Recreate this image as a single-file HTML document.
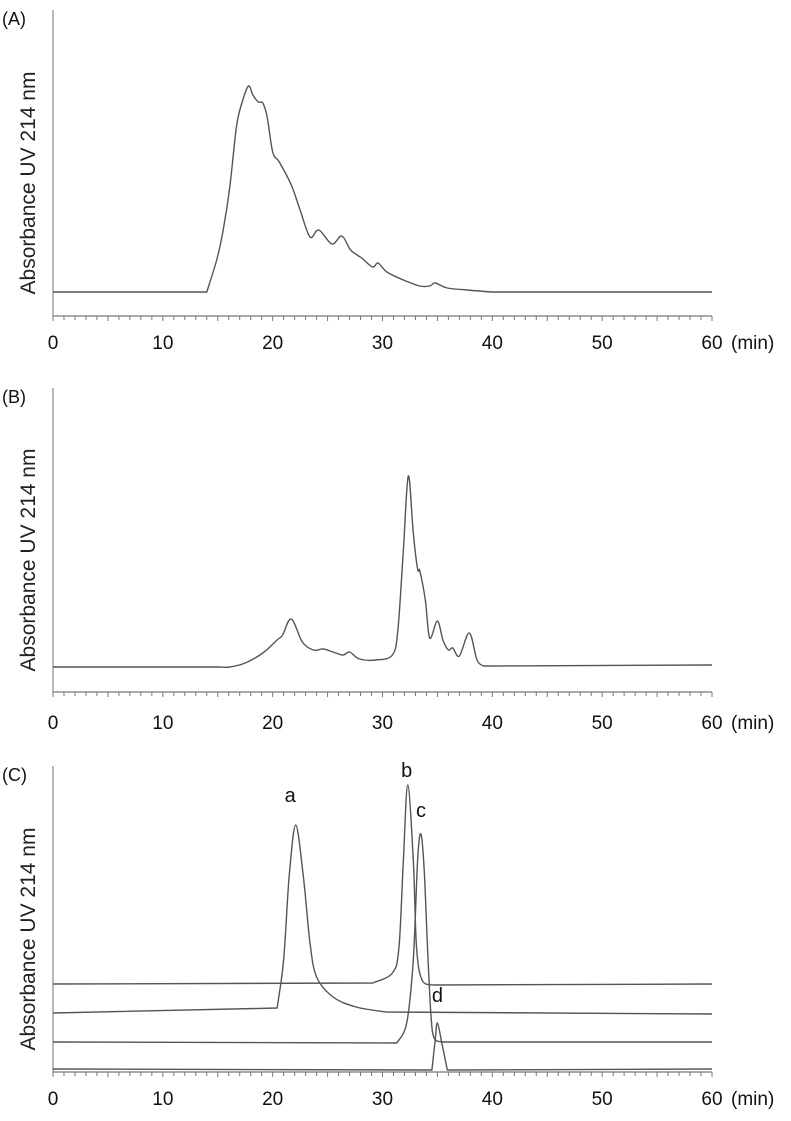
<!DOCTYPE html>
<html><head><meta charset="utf-8"><style>
body{margin:0;background:#fff;}
svg{display:block;font-family:"Liberation Sans",sans-serif;}
</style></head><body>
<svg id="fig" width="791" height="1121" viewBox="0 0 791 1121"></svg>
<script>
// X axis ticks (min)
const xTickLabels = [0,10,20,30,40,50,60];
// Panel A: time (min) and absorbance (arbitrary units above baseline)
const aTimes = [0,14.0,14.9,15.5,16.1,16.7,17.2,17.8,18.2,18.7,19.1,19.5,20.0,20.6,21.7,22.5,23.4,24.2,25.4,26.3,27.1,28.1,29.1,29.6,30.4,31.9,33.4,34.3,34.8,35.9,37.7,40,60];
const aValues = [0,0,32,62,105,165,189,206,197,190,189,175,140,130,107,82,55,62,48,56,42,34,25,29,20,12,6,6,9,4,2,0,0];
// Panel B
const bTimes = [0,15,16.1,17.5,19.1,20.4,20.9,21.7,22.7,23.7,24.6,25.5,26.4,27.0,27.9,29.4,30.9,31.4,31.9,32.35,32.8,33.2,33.4,33.9,34.3,35.0,35.5,36.0,36.4,37.0,37.9,38.6,39.2,60];
const bValues = [0,0,0,4,14,27,32,48,25,17,18,15,12,15,8,7,12,37,117,191,134,98,96,67,29,46,27,17,19,11,34,7,1,2];
// Panel C: four standards (absorbance incl. stacking offset)
const cbTimes = [0,29.1,30.9,31.5,31.9,32.3,32.8,33.1,33.6,34.6,60];
const cbValues = [88,89,99,125,212,287,212,125,92,87,88];
const caTimes = [0,20.4,21.0,21.5,22.1,22.8,23.4,24.0,25.5,27.6,30.3,60];
const caValues = [59,64,112,195,247,195,129,95,75,65,60,58];
const ccTimes = [0,31.3,32.2,32.8,33.2,33.5,33.8,34.1,34.4,34.7,35.5,60];
const ccValues = [30,29,49,112,212,238,202,125,59,34,30,30];
const cdTimes = [0,34.5,34.8,35.0,35.4,35.9,60];
const cdValues = [3,2,32,49,29,2,3];
const cLabels = ['a','b','c','d'];
const cLabelTimes = [21.6,32.2,33.5,35.0];
const cLabelValues = [270,295,255,70];

const NS='http://www.w3.org/2000/svg';
const svg=document.getElementById('fig');
function mk(tag,attrs,parent){const e=document.createElementNS(NS,tag);for(const k in attrs)e.setAttribute(k,attrs[k]);(parent||svg).appendChild(e);return e;}
const X0=53, XW=659;
function xs(t){return X0+t/60*XW;}

function panel(id,letter,top,axisY,labelY){
  const g=mk('g',{});
  
  
  const pl=mk('text',{x:2,y:top+15,'font-size':18,fill:'#111'},g);
  pl.textContent='('+letter+')';
  
  
  const yl=mk('text',{x:0,y:0,'font-size':21,fill:'#222','text-anchor':'middle',transform:'translate(35,'+((top+axisY)/2+20)+') rotate(-90)'},g);
  yl.textContent='Absorbance UV 214 nm';
  
  
  const ya=mk('line',{x1:X0,y1:top,x2:X0,y2:axisY,stroke:'#888','stroke-width':1.2},g);
  
  
  const xa=mk('line',{x1:X0,y1:axisY,x2:X0+XW,y2:axisY,stroke:'#777','stroke-width':1.2},g);
  
  
  for(let t=0;t<=60;t++){
    const tk=mk('line',{x1:xs(t),y1:axisY,x2:xs(t),y2:axisY+(t%5==0?5:4),stroke:'#777','stroke-width':1},g);
    
    
  }
  xTickLabels.forEach(v=>{
    const tl=mk('text',{x:xs(v),y:labelY+7,'font-size':19,fill:'#111','text-anchor':'middle'},g);
    tl.textContent=v;
    
    
  });
  const un=mk('text',{x:731,y:labelY+7,'font-size':19,fill:'#111'},g);
  un.textContent='(min)';
  
  
  return g;
}
function trace(g,times,vals,baseY,name){
  const P=times.map((t,i)=>[xs(t),baseY-vals[i]]);
  let d='M'+P[0][0].toFixed(1)+','+P[0][1].toFixed(1);
  for(let i=0;i<P.length-1;i++){
    const p1=P[i],p2=P[i+1];
    if(times[i+1]-times[i]>3){d+='L'+p2[0].toFixed(1)+','+p2[1].toFixed(1);continue;}
    const p0=(i>0&&times[i]-times[i-1]<=3)?P[i-1]:p1;
    const p3=(i+2<P.length&&times[i+2]-times[i+1]<=3)?P[i+2]:p2;
    const k=1/6;
    let c1x=p1[0]+(p2[0]-p0[0])*k, c1y=p1[1]+(p2[1]-p0[1])*k;
    let c2x=p2[0]-(p3[0]-p1[0])*k, c2y=p2[1]-(p3[1]-p1[1])*k;
    c1x=Math.min(Math.max(c1x,p1[0]),p2[0]); c2x=Math.min(Math.max(c2x,p1[0]),p2[0]);
    d+='C'+c1x.toFixed(1)+','+c1y.toFixed(1)+' '+c2x.toFixed(1)+','+c2y.toFixed(1)+' '+p2[0].toFixed(1)+','+p2[1].toFixed(1);
  }
  const p=mk('path',{d:d,fill:'none',stroke:'#555','stroke-width':1.4,'stroke-linejoin':'round'},g);
  
  
}
const gA=panel('a','A',10,316,342);
trace(gA,aTimes,aValues,292,'trace-a');
const gB=panel('b','B',388,692,722);
trace(gB,bTimes,bValues,667,'trace-b');
const gC=panel('c','C',766,1072,1098);
trace(gC,cbTimes,cbValues,1072,'trace-standard-b');
trace(gC,caTimes,caValues,1072,'trace-standard-a');
trace(gC,ccTimes,ccValues,1072,'trace-standard-c');
trace(gC,cdTimes,cdValues,1072,'trace-standard-d');
cLabels.forEach((l,i)=>{
  const t=mk('text',{x:xs(cLabelTimes[i]),y:1072-cLabelValues[i],'font-size':20,fill:'#111','text-anchor':'middle'},gC);
  t.textContent=l;
  
  
});
</script>
</body></html>
